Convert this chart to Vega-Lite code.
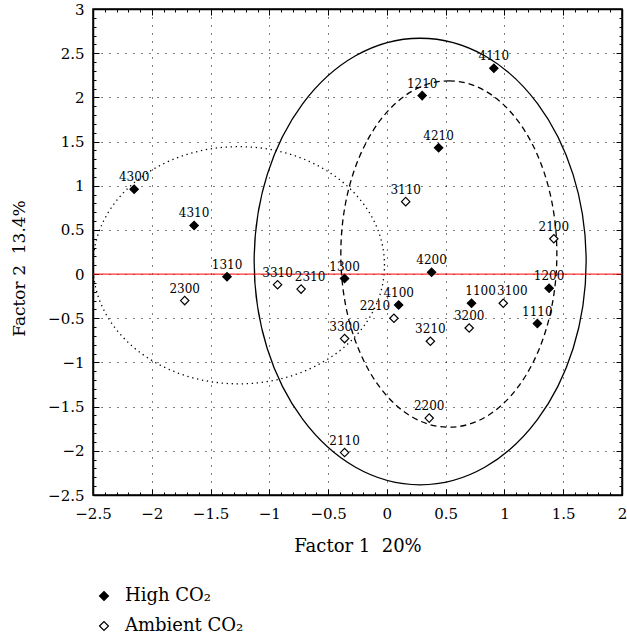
{
  "$schema": "https://vega.github.io/schema/vega-lite/v6.json",
  "width": 529,
  "height": 486,
  "autosize": {"type": "none"},
  "padding": {"left": 93, "top": 9, "right": 5, "bottom": 139},
  "background": "white",
  "config": {
    "font": "DejaVu Serif",
    "view": {"stroke": "black", "strokeWidth": 1.5}
  },
  "datasets": {
    "pts": [
      {"id": "4300", "f1": -2.15, "f2": 0.96, "group": "High CO₂"},
      {"id": "4310", "f1": -1.64, "f2": 0.55, "group": "High CO₂"},
      {"id": "1310", "f1": -1.36, "f2": -0.03, "group": "High CO₂"},
      {"id": "1300", "f1": -0.36, "f2": -0.05, "group": "High CO₂"},
      {"id": "4200", "f1": 0.38, "f2": 0.02, "group": "High CO₂"},
      {"id": "1200", "f1": 1.38, "f2": -0.16, "group": "High CO₂"},
      {"id": "4110", "f1": 0.91, "f2": 2.33, "group": "High CO₂"},
      {"id": "1210", "f1": 0.30, "f2": 2.02, "group": "High CO₂"},
      {"id": "4210", "f1": 0.44, "f2": 1.43, "group": "High CO₂"},
      {"id": "4100", "f1": 0.10, "f2": -0.35, "group": "High CO₂"},
      {"id": "1100", "f1": 0.72, "f2": -0.33, "group": "High CO₂"},
      {"id": "1110", "f1": 1.28, "f2": -0.56, "group": "High CO₂"},
      {"id": "2300", "f1": -1.72, "f2": -0.30, "group": "Ambient CO₂"},
      {"id": "3310", "f1": -0.93, "f2": -0.12, "group": "Ambient CO₂"},
      {"id": "2310", "f1": -0.73, "f2": -0.17, "group": "Ambient CO₂"},
      {"id": "3300", "f1": -0.36, "f2": -0.73, "group": "Ambient CO₂"},
      {"id": "2210", "f1": 0.06, "f2": -0.50, "group": "Ambient CO₂"},
      {"id": "3210", "f1": 0.37, "f2": -0.76, "group": "Ambient CO₂"},
      {"id": "3200", "f1": 0.70, "f2": -0.61, "group": "Ambient CO₂"},
      {"id": "3100", "f1": 0.99, "f2": -0.33, "group": "Ambient CO₂"},
      {"id": "2200", "f1": 0.36, "f2": -1.63, "group": "Ambient CO₂"},
      {"id": "2110", "f1": -0.36, "f2": -2.02, "group": "Ambient CO₂"},
      {"id": "3110", "f1": 0.16, "f2": 0.82, "group": "Ambient CO₂"},
      {"id": "2100", "f1": 1.42, "f2": 0.40, "group": "Ambient CO₂"}
    ]
  },
  "layer": [
    {
      "data": {"values": [{"cx": 0.283, "cy": 0.142}]},
      "mark": {"type": "point", "shape": "M0,-1A0.7434,1,0,1,1,0,1A0.7434,1,0,1,1,0,-1Z", "size": 199452, "filled": false, "stroke": "black", "strokeWidth": 1.3, "opacity": 1, "clip": true},
      "encoding": {
        "x": {"field": "cx", "type": "quantitative", "scale": {"domain": [-2.5, 2], "nice": false, "zero": false}, "axis": null},
        "y": {"field": "cy", "type": "quantitative", "scale": {"domain": [-2.5, 3], "nice": false, "zero": false}, "axis": null}
      }
    },
    {
      "data": {"values": [{"cx": 0.527, "cy": 0.227}]},
      "mark": {"type": "point", "shape": "M0,-1A0.6236,1,0,1,1,0,1A0.6236,1,0,1,1,0,-1Z", "size": 119993, "filled": false, "stroke": "black", "strokeWidth": 1.3, "strokeDash": [6, 4], "opacity": 1, "clip": true},
      "encoding": {
        "x": {"field": "cx", "type": "quantitative", "scale": {"domain": [-2.5, 2], "nice": false, "zero": false}, "axis": null},
        "y": {"field": "cy", "type": "quantitative", "scale": {"domain": [-2.5, 3], "nice": false, "zero": false}, "axis": null}
      }
    },
    {
      "data": {"values": [{"cx": -1.26, "cy": 0.1}]},
      "mark": {"type": "point", "shape": "M-1,0A1,0.814,0,1,1,1,0A1,0.814,0,1,1,-1,0Z", "size": 84914, "filled": false, "stroke": "black", "strokeWidth": 1.3, "strokeDash": [1.3, 3.7], "opacity": 1, "clip": true},
      "encoding": {
        "x": {"field": "cx", "type": "quantitative", "scale": {"domain": [-2.5, 2], "nice": false, "zero": false}, "axis": null},
        "y": {"field": "cy", "type": "quantitative", "scale": {"domain": [-2.5, 3], "nice": false, "zero": false}, "axis": null}
      }
    },
    {
      "data": {"values": [{"z": 0}]},
      "mark": {"type": "rule", "color": "red", "strokeWidth": 1},
      "encoding": {
        "y": {"field": "z", "type": "quantitative", "scale": {"domain": [-2.5, 3], "nice": false, "zero": false}, "axis": null}
      }
    },
    {
      "data": {"name": "pts"},
      "mark": {"type": "point", "opacity": 0},
      "encoding": {
        "x": {"field": "f1", "type": "quantitative", "scale": {"domain": [-2.5, 2], "nice": false, "zero": false},
          "axis": {"orient": "top", "values": [-2.5,-2.4,-2.3,-2.2,-2.1,-2,-1.9,-1.8,-1.7,-1.6,-1.5,-1.4,-1.3,-1.2,-1.1,-1,-0.9,-0.8,-0.7,-0.6,-0.5,-0.4,-0.3,-0.2,-0.1,0,0.1,0.2,0.3,0.4,0.5,0.6,0.7,0.8,0.9,1,1.1,1.2,1.3,1.4,1.5,1.6,1.7,1.8,1.9,2],
            "labels": false, "grid": false, "title": null, "domainColor": "black", "domainWidth": 1.5, "tickColor": "black", "tickWidth": 1,
            "tickSize": {"condition": {"test": "abs(datum.value*2-round(datum.value*2))<0.01", "value": -6}, "value": -3}}},
        "y": {"field": "f2", "type": "quantitative", "scale": {"domain": [-2.5, 3], "nice": false, "zero": false},
          "axis": {"orient": "right", "values": [-2.5,-2.4,-2.3,-2.2,-2.1,-2,-1.9,-1.8,-1.7,-1.6,-1.5,-1.4,-1.3,-1.2,-1.1,-1,-0.9,-0.8,-0.7,-0.6,-0.5,-0.4,-0.3,-0.2,-0.1,0,0.1,0.2,0.3,0.4,0.5,0.6,0.7,0.8,0.9,1,1.1,1.2,1.3,1.4,1.5,1.6,1.7,1.8,1.9,2,2.1,2.2,2.3,2.4,2.5,2.6,2.7,2.8,2.9,3],
            "labels": false, "grid": false, "title": null, "domainColor": "black", "domainWidth": 1.5, "tickColor": "black", "tickWidth": 1,
            "tickSize": {"condition": {"test": "abs(datum.value*2-round(datum.value*2))<0.01", "value": -6}, "value": -3}}}
      }
    },
    {
      "data": {"name": "pts"},
      "mark": {"type": "point", "shape": "diamond", "filled": true, "size": 70, "stroke": "black", "strokeWidth": 1.2, "opacity": 1},
      "encoding": {
        "x": {"field": "f1", "type": "quantitative", "scale": {"domain": [-2.5, 2], "nice": false, "zero": false},
          "axis": {"orient": "bottom", "values": [-2.5,-2.4,-2.3,-2.2,-2.1,-2,-1.9,-1.8,-1.7,-1.6,-1.5,-1.4,-1.3,-1.2,-1.1,-1,-0.9,-0.8,-0.7,-0.6,-0.5,-0.4,-0.3,-0.2,-0.1,0,0.1,0.2,0.3,0.4,0.5,0.6,0.7,0.8,0.9,1,1.1,1.2,1.3,1.4,1.5,1.6,1.7,1.8,1.9,2],
            "format": ".1~f",
            "labelExpr": "abs(datum.value*2-round(datum.value*2))<0.01 ? datum.label : ''",
            "labelOverlap": false, "labelFlush": false, "labelFont": "DejaVu Serif", "labelFontSize": 15, "labelColor": "black", "labelPadding": 17,
            "tickColor": "black", "tickWidth": 1,
            "tickSize": {"condition": {"test": "abs(datum.value*2-round(datum.value*2))<0.01", "value": -6}, "value": -3},
            "grid": true, "gridColor": "black", "gridDash": [1, 7], "gridWidth": 1,
            "gridOpacity": {"condition": {"test": "abs(datum.value*2-round(datum.value*2))<0.01", "value": 1}, "value": 0},
            "domainColor": "black", "domainWidth": 1.5,
            "title": "Factor 1\u00a0\u00a020%", "titleFont": "DejaVu Serif", "titleFontSize": 18, "titleFontWeight": "normal", "titleColor": "black",
            "titleBaseline": "alphabetic", "titleY": 56}},
        "y": {"field": "f2", "type": "quantitative", "scale": {"domain": [-2.5, 3], "nice": false, "zero": false},
          "axis": {"orient": "left", "values": [-2.5,-2.4,-2.3,-2.2,-2.1,-2,-1.9,-1.8,-1.7,-1.6,-1.5,-1.4,-1.3,-1.2,-1.1,-1,-0.9,-0.8,-0.7,-0.6,-0.5,-0.4,-0.3,-0.2,-0.1,0,0.1,0.2,0.3,0.4,0.5,0.6,0.7,0.8,0.9,1,1.1,1.2,1.3,1.4,1.5,1.6,1.7,1.8,1.9,2,2.1,2.2,2.3,2.4,2.5,2.6,2.7,2.8,2.9,3],
            "format": ".1~f",
            "labelExpr": "abs(datum.value*2-round(datum.value*2))<0.01 ? datum.label : ''",
            "labelOverlap": false, "labelFlush": false, "labelFont": "DejaVu Serif", "labelFontSize": 15, "labelColor": "black", "labelPadding": 15,
            "tickColor": "black", "tickWidth": 1,
            "tickSize": {"condition": {"test": "abs(datum.value*2-round(datum.value*2))<0.01", "value": -6}, "value": -3},
            "grid": true, "gridColor": "black", "gridDash": [1, 7], "gridWidth": 1,
            "gridOpacity": {"condition": {"test": "abs(datum.value*2-round(datum.value*2))<0.01", "value": 1}, "value": 0},
            "domainColor": "black", "domainWidth": 1.5,
            "title": "Factor 2\u00a0\u00a013.4%", "titleFont": "DejaVu Serif", "titleFontSize": 17, "titleFontWeight": "normal", "titleColor": "black",
            "titleAngle": -90, "titleBaseline": "alphabetic", "titleAlign": "center", "titleX": -69, "titleY": 259}},
        "fill": {"field": "group", "type": "nominal",
          "scale": {"domain": ["High CO₂", "Ambient CO₂"], "range": ["black", "white"]},
          "legend": {"orient": "none", "legendX": 2, "legendY": 578, "title": null, "symbolType": "diamond", "symbolSize": 80,
            "symbolStrokeColor": "black", "symbolStrokeWidth": 1.2, "symbolOpacity": 1,
            "labelFont": "DejaVu Serif", "labelFontSize": 18, "labelColor": "black", "labelOffset": 12, "rowPadding": 12}}
      }
    },
    {
      "data": {"name": "pts"},
      "transform": [{"filter": "datum.id != '2210' && datum.id != '1100' && datum.id != '3100' && datum.id != '2310'"}],
      "mark": {"type": "text", "font": "DejaVu Serif", "fontSize": 12, "color": "black", "align": "center", "baseline": "alphabetic", "dy": -8},
      "encoding": {
        "x": {"field": "f1", "type": "quantitative", "scale": {"domain": [-2.5, 2], "nice": false, "zero": false}, "axis": null},
        "y": {"field": "f2", "type": "quantitative", "scale": {"domain": [-2.5, 3], "nice": false, "zero": false}, "axis": null},
        "text": {"field": "id", "type": "nominal"}
      }
    },
    {
      "data": {"name": "pts"},
      "transform": [{"filter": "datum.id == '1100' || datum.id == '3100' || datum.id == '2310'"}],
      "mark": {"type": "text", "font": "DejaVu Serif", "fontSize": 12, "color": "black", "align": "center", "baseline": "alphabetic", "dy": -8, "dx": 9},
      "encoding": {
        "x": {"field": "f1", "type": "quantitative", "scale": {"domain": [-2.5, 2], "nice": false, "zero": false}, "axis": null},
        "y": {"field": "f2", "type": "quantitative", "scale": {"domain": [-2.5, 3], "nice": false, "zero": false}, "axis": null},
        "text": {"field": "id", "type": "nominal"}
      }
    },
    {
      "data": {"name": "pts"},
      "transform": [{"filter": "datum.id == '2210'"}],
      "mark": {"type": "text", "font": "DejaVu Serif", "fontSize": 12, "color": "black", "align": "center", "baseline": "alphabetic", "dy": -8, "dx": -19},
      "encoding": {
        "x": {"field": "f1", "type": "quantitative", "scale": {"domain": [-2.5, 2], "nice": false, "zero": false}, "axis": null},
        "y": {"field": "f2", "type": "quantitative", "scale": {"domain": [-2.5, 3], "nice": false, "zero": false}, "axis": null},
        "text": {"field": "id", "type": "nominal"}
      }
    }
  ],
  "resolve": {"axis": {"x": "independent", "y": "independent"}}
}
